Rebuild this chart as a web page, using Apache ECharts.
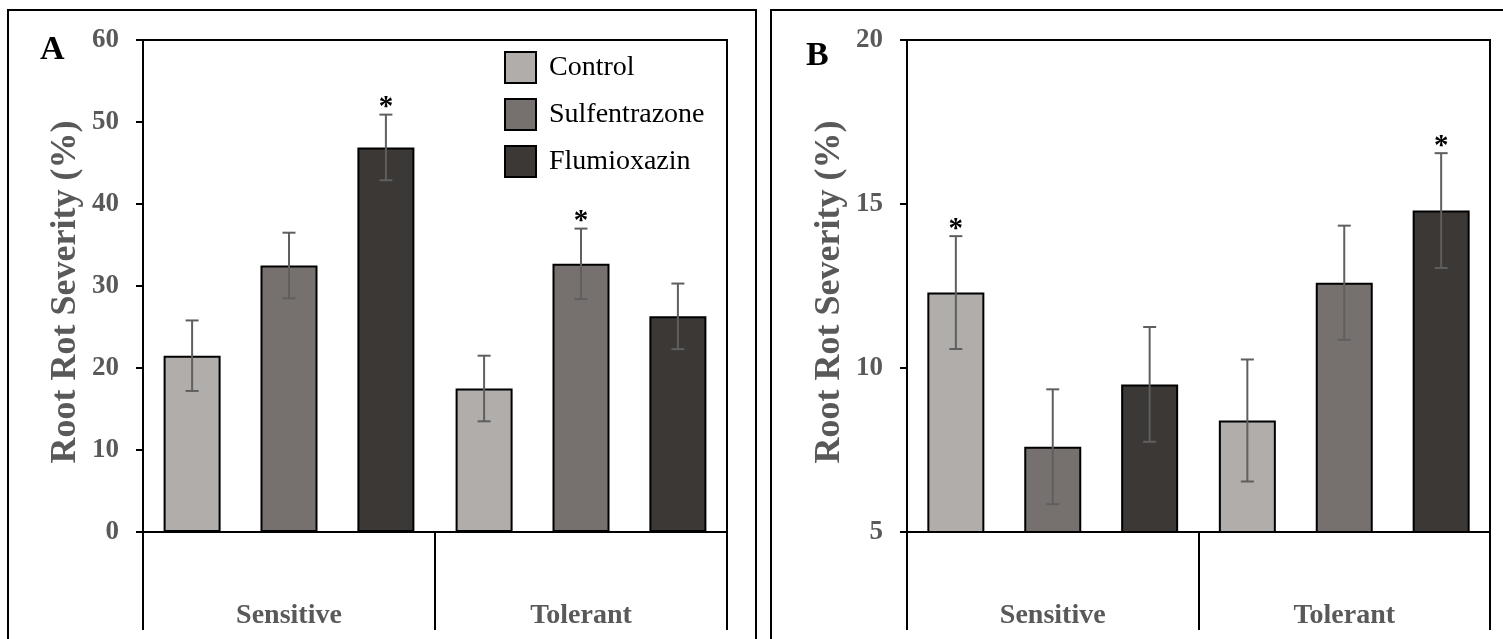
<!DOCTYPE html>
<html>
<head>
<meta charset="utf-8">
<script src="https://cdn.jsdelivr.net/npm/echarts@6/dist/echarts.min.js"></script>
<style>
  html, body { margin: 0; padding: 0; background: #fff; }
  #chart { width: 1503px; height: 639px; }
</style>
</head>
<body>
<div id="chart"></div>
<script>
// ---- data ----
const categories = ['Sensitive', 'Tolerant'];
const seriesNames = ['Control', 'Sulfentrazone', 'Flumioxazin'];

// Panel A
const aControl = [21.5, 17.5];
const aSulfentrazone = [32.5, 32.7];
const aFlumioxazin = [46.9, 26.3];
const aControlErr = [4.3, 4.0];
const aSulfentrazoneErr = [4.0, 4.3];
const aFlumioxazinErr = [4.0, 4.0];
const aControlSig = [0, 0];
const aSulfentrazoneSig = [0, 1];
const aFlumioxazinSig = [1, 0];
const aTicks = { min: 0, max: 60, interval: 10 };

// Panel B
const bControl = [12.3, 8.4];
const bSulfentrazone = [7.6, 12.6];
const bFlumioxazin = [9.5, 14.8];
const bControlErr = [1.72, 1.86];
const bSulfentrazoneErr = [1.75, 1.74];
const bFlumioxazinErr = [1.75, 1.75];
const bControlSig = [1, 0];
const bSulfentrazoneSig = [0, 0];
const bFlumioxazinSig = [0, 1];
const bTicks = { min: 5, max: 20, interval: 5 };

const yTitle = 'Root Rot Severity (%)';
const panelLabels = ['A', 'B'];

// ---- style ----
const FONT = '"Liberation Serif", "Times New Roman", serif';
const GREY = '#595959';
const colors = ['#b0adab', '#76716f', '#3b3836'];
const BAR_W = 57;
const GAP = 0.7;
const SPACING = BAR_W * (1 + GAP);

function buildErrData(vals, errs, sigs) {
  const out = [];
  for (let s = 0; s < vals.length; s++) {
    for (let c = 0; c < categories.length; c++) {
      out.push([c, s, vals[s][c], errs[s][c], sigs[s][c]]);
    }
  }
  return out;
}

const errA = buildErrData([aControl, aSulfentrazone, aFlumioxazin],
  [aControlErr, aSulfentrazoneErr, aFlumioxazinErr],
  [aControlSig, aSulfentrazoneSig, aFlumioxazinSig]);
const errB = buildErrData([bControl, bSulfentrazone, bFlumioxazin],
  [bControlErr, bSulfentrazoneErr, bFlumioxazinErr],
  [bControlSig, bSulfentrazoneSig, bFlumioxazinSig]);

function renderErr(params, api) {
  const cat = api.value(0), s = api.value(1), v = api.value(2), e = api.value(3), sig = api.value(4);
  const c = api.coord([cat, v]);
  const x = c[0] + (s - 1) * SPACING;
  const top = api.coord([cat, v + e])[1];
  const bot = api.coord([cat, v - e])[1];
  const st = { stroke: '#5f5f5f', lineWidth: 2 };
  const children = [
    { type: 'line', shape: { x1: x, y1: top, x2: x, y2: bot }, style: st },
    { type: 'line', shape: { x1: x - 6.5, y1: top, x2: x + 6.5, y2: top }, style: st },
    { type: 'line', shape: { x1: x - 6.5, y1: bot, x2: x + 6.5, y2: bot }, style: st }
  ];
  if (sig) {
    children.push({
      type: 'text',
      style: { text: '*', x: x, y: top - 7, align: 'center', verticalAlign: 'middle',
               font: 'bold 29px ' + FONT, fill: '#000' }
    });
  }
  return { type: 'group', children: children };
}

function xAxisCfg(gridIndex) {
  return {
    type: 'category', gridIndex: gridIndex, data: categories,
    axisLine: { lineStyle: { color: '#000', width: 2 } },
    axisTick: { show: true, length: 98, lineStyle: { color: '#000', width: 2 } },
    axisLabel: { margin: 70, color: GREY, fontFamily: FONT, fontWeight: 'bold', fontSize: 28 },
    splitLine: { show: false }
  };
}
function yAxisCfg(gridIndex, t) {
  return {
    type: 'value', gridIndex: gridIndex, min: t.min, max: t.max, interval: t.interval,
    name: yTitle, nameLocation: 'middle', nameGap: 59,
    nameTextStyle: { color: GREY, fontFamily: FONT, fontWeight: 'bold', fontSize: 36, padding: [0, 12, 0, 0] },
    axisLine: { show: true, lineStyle: { color: '#000', width: 2 } },
    axisTick: { show: true, length: 7, lineStyle: { color: '#000', width: 2 } },
    axisLabel: { margin: 24, color: GREY, fontFamily: FONT, fontWeight: 'bold', fontSize: 27 },
    splitLine: { show: false }
  };
}
function barSeries(name, data, idx, gi) {
  return {
    type: 'bar', name: name, xAxisIndex: gi, yAxisIndex: gi, data: data,
    barWidth: BAR_W, barGap: (GAP * 100) + '%',
    itemStyle: { color: colors[idx], borderColor: '#000', borderWidth: 2 },
    emphasis: { disabled: true }
  };
}

const chart = echarts.init(document.getElementById('chart'), null, { renderer: 'canvas' });
chart.setOption({
  animation: false,
  backgroundColor: '#fff',
  grid: [
    { left: 143, top: 40, width: 584, height: 492, show: true, borderColor: '#000', borderWidth: 2, backgroundColor: 'transparent' },
    { left: 907, top: 40, width: 583, height: 492, show: true, borderColor: '#000', borderWidth: 2, backgroundColor: 'transparent' }
  ],
  xAxis: [xAxisCfg(0), xAxisCfg(1)],
  yAxis: [yAxisCfg(0, aTicks), yAxisCfg(1, bTicks)],
  legend: {
    orient: 'vertical', left: 504, top: 51, padding: 0,
    itemWidth: 31, itemHeight: 31, itemGap: 14,
    icon: 'rect',
    data: seriesNames,
    textStyle: { fontFamily: FONT, fontSize: 28, color: '#000', padding: [0, 0, 0, 8] }
  },
  graphic: [
    { type: 'rect', shape: { x: 8, y: 10, width: 748, height: 660 }, style: { fill: 'none', stroke: '#000', lineWidth: 2 }, silent: true },
    { type: 'rect', shape: { x: 771, y: 10, width: 760, height: 660 }, style: { fill: 'none', stroke: '#000', lineWidth: 2 }, silent: true },
    { type: 'text', left: 40, top: 33, style: { text: panelLabels[0], font: 'bold 34px ' + FONT, fill: '#000' } },
    { type: 'text', left: 806, top: 39, style: { text: panelLabels[1], font: 'bold 34px ' + FONT, fill: '#000' } }
  ],
  series: [
    barSeries(seriesNames[0], aControl, 0, 0),
    barSeries(seriesNames[1], aSulfentrazone, 1, 0),
    barSeries(seriesNames[2], aFlumioxazin, 2, 0),
    barSeries(seriesNames[0], bControl, 0, 1),
    barSeries(seriesNames[1], bSulfentrazone, 1, 1),
    barSeries(seriesNames[2], bFlumioxazin, 2, 1),
    { type: 'custom', xAxisIndex: 0, yAxisIndex: 0, data: errA, renderItem: renderErr, encode: { x: 0, y: 2 }, z: 5, silent: true },
    { type: 'custom', xAxisIndex: 1, yAxisIndex: 1, data: errB, renderItem: renderErr, encode: { x: 0, y: 2 }, z: 5, silent: true }
  ]
});
</script>
</body>
</html>
